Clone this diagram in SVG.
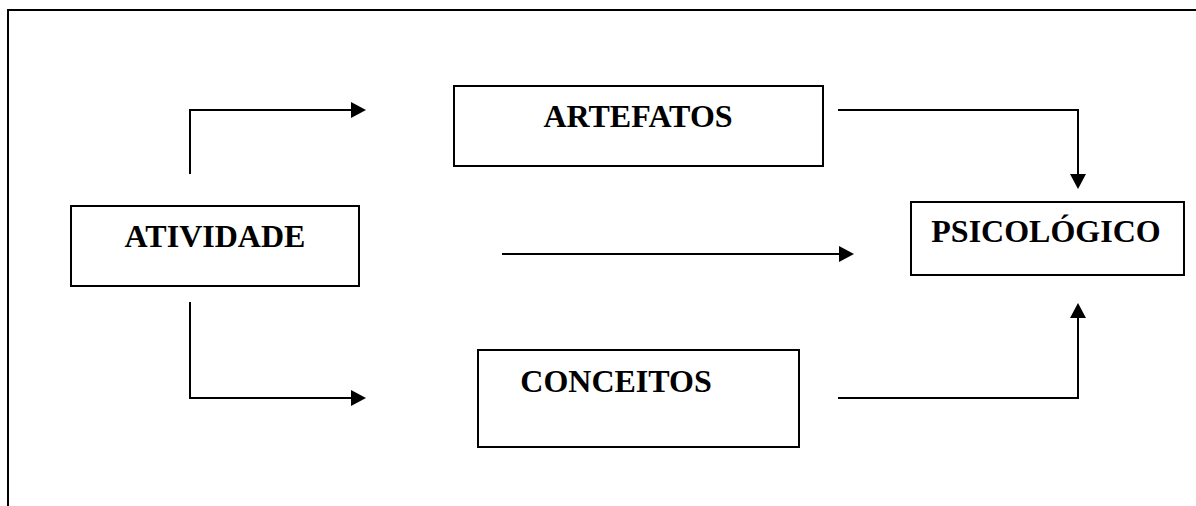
<svg xmlns="http://www.w3.org/2000/svg" width="1196" height="506" viewBox="0 0 1196 506">
  <style>
    .frame { fill: none; stroke: #000; stroke-width: 2; }
    .box { fill: #fff; stroke: #000; stroke-width: 2; }
    .label { font-family: "Liberation Serif", "Times New Roman", serif; font-weight: bold; font-size: 32px; fill: #000; text-anchor: middle; }
    .conn { fill: none; stroke: #000; stroke-width: 2; marker-end: url(#head); }
  </style>
  <defs>
    <marker id="head" markerUnits="userSpaceOnUse" markerWidth="15" markerHeight="16" refX="0" refY="8" orient="auto" viewBox="0 0 15 16">
      <path d="M0,0 L15,8 L0,16 z" fill="#000"/>
    </marker>
  </defs>
  <rect width="1196" height="506" fill="#fff"/>

  <!-- page frame: top and left edges -->
  <path class="frame" d="M8 506 V10 H1196"/>

  <g id="connectors">
    <path class="conn" d="M190 174 V110 H351"/>
    <path class="conn" d="M838 110 H1078 V174"/>
    <path class="conn" d="M502 254 H839"/>
    <path class="conn" d="M190 302 V398 H351"/>
    <path class="conn" d="M838 398 H1078 V318"/>
  </g>

  <g id="atividade">
    <rect class="box" x="71" y="206" width="288" height="80"/>
    <text class="label" x="215" y="247">ATIVIDADE</text>
  </g>
  <g id="artefatos">
    <rect class="box" x="454" y="86" width="369" height="80"/>
    <text class="label" x="638" y="127">ARTEFATOS</text>
  </g>
  <g id="conceitos">
    <rect class="box" x="478" y="350" width="321" height="97"/>
    <text class="label" x="616" y="392">CONCEITOS</text>
  </g>
  <g id="psicologico">
    <rect class="box" x="911" y="202" width="273" height="73"/>
    <text class="label" x="1046" y="242">PSICOLÓGICO</text>
  </g>
</svg>
